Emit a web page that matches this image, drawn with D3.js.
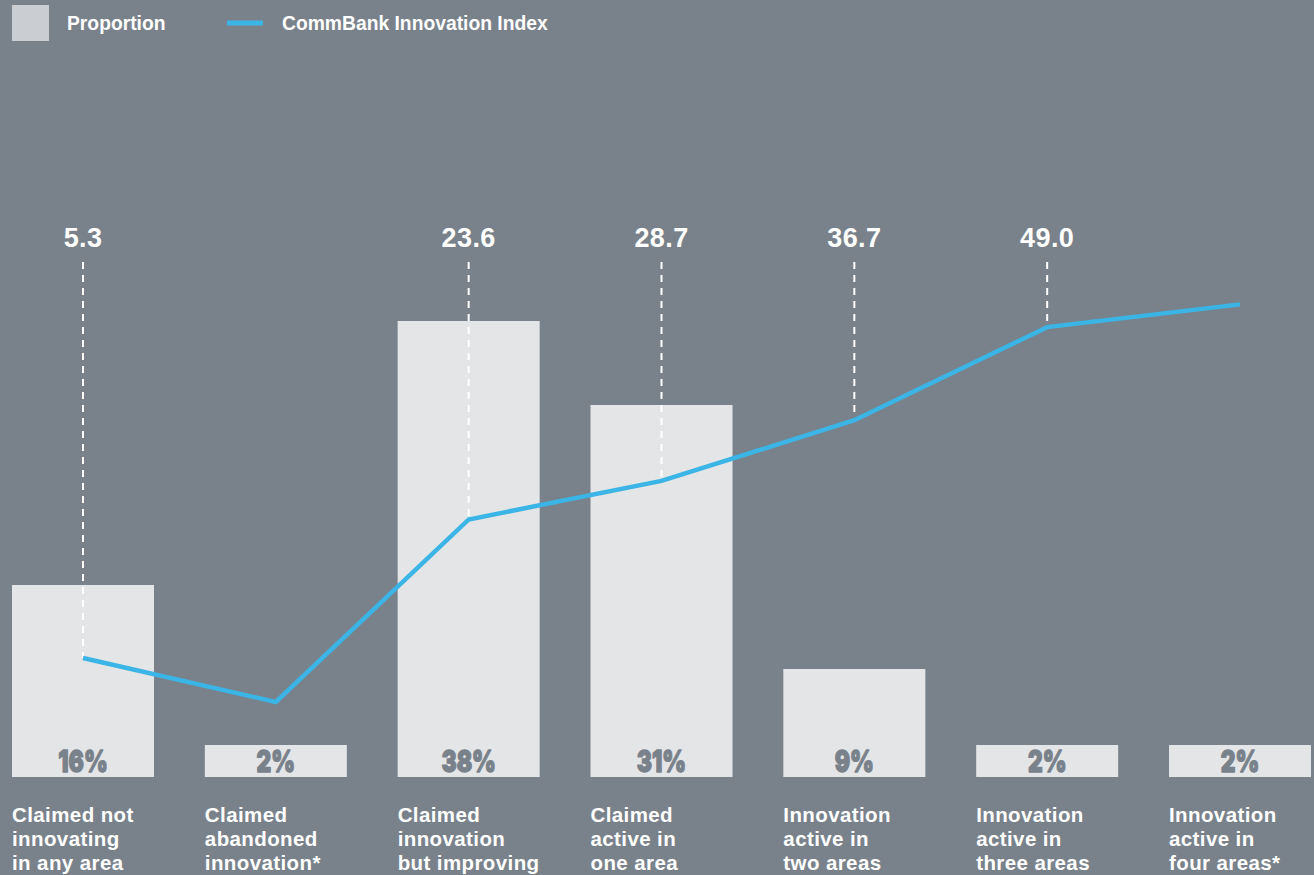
<!DOCTYPE html>
<html>
<head>
<meta charset="utf-8">
<script src="https://cdn.jsdelivr.net/npm/d3@7"></script>
<style>
  html, body { margin: 0; padding: 0; background: #79828b; }
  svg { display: block; }
  .lbl { font-family: "Liberation Sans", Arial, Helvetica, sans-serif; font-weight: bold; fill: #ffffff; }
  .pct { font-family: Inter, "DejaVu Sans", sans-serif; font-weight: 900; fill: #79828b; stroke: #79828b; stroke-width: 1.3; stroke-linejoin: round; }
</style>
</head>
<body>
<svg id="chart" width="1314" height="875"></svg>
<script>
// Innovation groups along the x axis
const categories = [
  "Claimed not innovating in any area",
  "Claimed abandoned innovation*",
  "Claimed innovation but improving",
  "Claimed active in one area",
  "Innovation active in two areas",
  "Innovation active in three areas",
  "Innovation active in four areas*"
];
const categoryLines = [
  ["Claimed not", "innovating", "in any area"],
  ["Claimed", "abandoned", "innovation*"],
  ["Claimed", "innovation", "but improving"],
  ["Claimed", "active in", "one area"],
  ["Innovation", "active in", "two areas"],
  ["Innovation", "active in", "three areas"],
  ["Innovation", "active in", "four areas*"]
];
// Share of businesses in each group (%)
const proportion = [16, 2, 38, 31, 9, 2, 2];
// CommBank Innovation Index score for each group
const indexScore = [5.3, -0.5, 23.6, 28.7, 36.7, 49.0, 52.0];
// Which index scores carry a printed label
const indexLabelled = [true, false, true, true, true, true, false];

const legendItems = ["Proportion", "CommBank Innovation Index"];

const W = 1314, H = 875;
const BAR = "#e4e5e7", LINE = "#3bb4e6", BG = "#79828b";

const svg = d3.select("#chart");
svg.append("rect").attr("width", W).attr("height", H).attr("fill", BG);

const x = d3.scaleBand().domain(categories).range([12, 1311]).paddingInner(0.2636).paddingOuter(0);
const yBar = d3.scaleLinear().domain([0, 40]).range([777, 297]);
const yLine = d3.scaleLinear().domain([0, 60]).range([698.2, 243.8]);
const minBox = 32; // room for the percentage label inside small bars

// Bars
svg.append("g").selectAll("rect")
  .data(categories)
  .join("rect")
  .attr("x", d => x(d))
  .attr("width", x.bandwidth())
  .attr("y", (d, i) => yBar(0) - Math.max(yBar(0) - yBar(proportion[i]), minBox))
  .attr("height", (d, i) => Math.max(yBar(0) - yBar(proportion[i]), minBox))
  .attr("fill", BAR);

// Percentage labels inside bars, squeezed to a condensed width
const pct = svg.append("g").selectAll("text")
  .data(categories)
  .join("text")
  .attr("class", "pct")
  .attr("x", d => x(d) + x.bandwidth() / 2)
  .attr("y", yBar(0) - 5.5)
  .attr("text-anchor", "middle")
  .attr("font-size", 30)
  .text((d, i) => proportion[i] + "%");
pct.each(function () {
  const w = this.getComputedTextLength();
  d3.select(this).attr("textLength", w * 0.76).attr("lengthAdjust", "spacingAndGlyphs");
});

// Dashed leaders from value labels down to the index line
const cx = d => x(d) + x.bandwidth() / 2;
svg.append("g").selectAll("line")
  .data(categories.filter((d, i) => indexLabelled[i]))
  .join("line")
  .attr("x1", cx).attr("x2", cx)
  .attr("y1", 262)
  .attr("y2", d => yLine(indexScore[categories.indexOf(d)]))
  .attr("stroke", "#ffffff")
  .attr("stroke-width", 2)
  .attr("stroke-dasharray", "7,6");

// Index line
const line = d3.line().x((d, i) => cx(categories[i])).y(d => yLine(d));
svg.append("path")
  .datum(indexScore)
  .attr("d", line)
  .attr("fill", "none")
  .attr("stroke", LINE)
  .attr("stroke-width", 4.5)
  .attr("stroke-linejoin", "miter");

// Index value labels
svg.append("g").selectAll("text")
  .data(categories.filter((d, i) => indexLabelled[i]))
  .join("text")
  .attr("class", "lbl")
  .attr("x", cx)
  .attr("y", 247)
  .attr("text-anchor", "middle")
  .attr("font-size", 27)
  .attr("letter-spacing", 0.4)
  .text(d => indexScore[categories.indexOf(d)].toFixed(1));

// Category labels below the bars
const cat = svg.append("g").selectAll("text")
  .data(categories)
  .join("text")
  .attr("class", "lbl")
  .attr("font-size", 20.5)
  .attr("letter-spacing", 0.4)
  .attr("x", d => x(d));
cat.selectAll("tspan")
  .data((d, i) => categoryLines[i])
  .join("tspan")
  .attr("x", function () { return d3.select(this.parentNode).attr("x"); })
  .attr("y", (d, j) => 822 + j * 24)
  .text(d => d);

// Legend
const lg = svg.append("g");
lg.append("rect").attr("x", 12).attr("y", 5).attr("width", 37).attr("height", 36).attr("fill", "#cacdd1");
lg.append("text").attr("class", "lbl").attr("x", 67).attr("y", 30).attr("font-size", 19.3).text(legendItems[0]);
lg.append("line").attr("x1", 227).attr("x2", 263).attr("y1", 23).attr("y2", 23)
  .attr("stroke", LINE).attr("stroke-width", 5);
lg.append("text").attr("class", "lbl").attr("x", 282).attr("y", 30).attr("font-size", 19.3).text(legendItems[1]);
</script>
</body>
</html>
